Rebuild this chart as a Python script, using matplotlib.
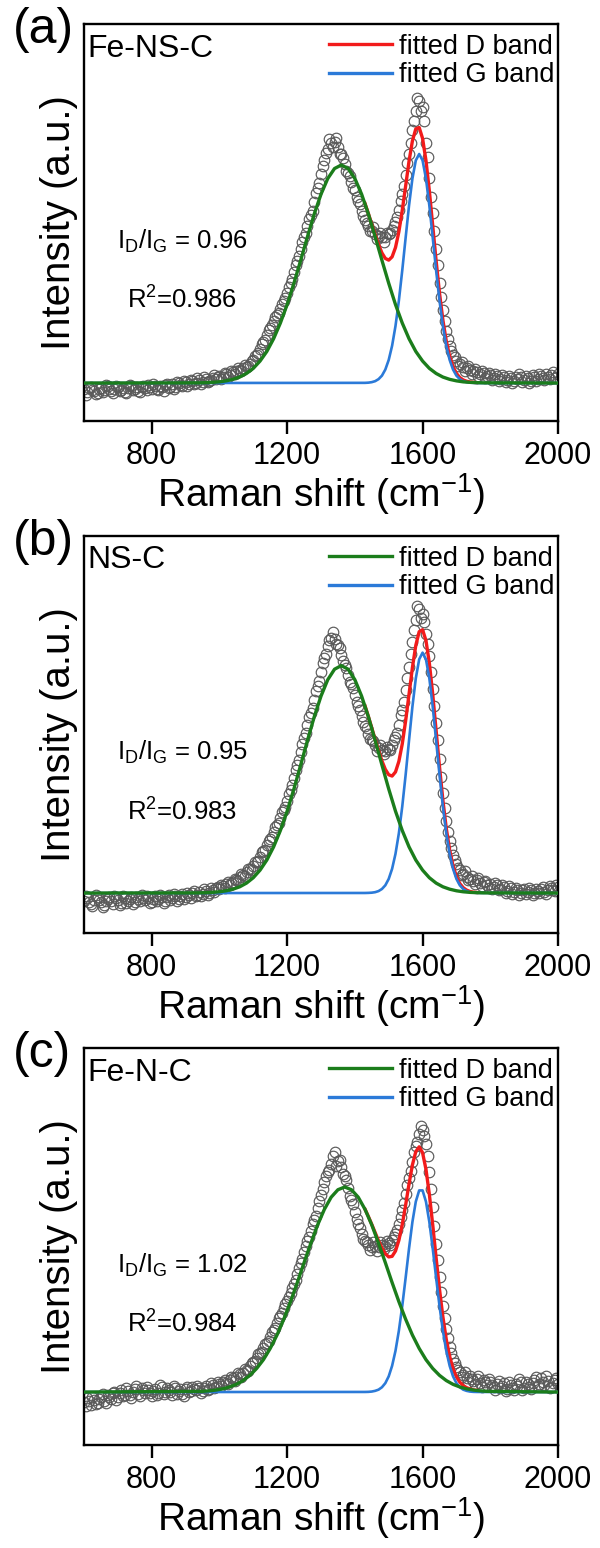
import matplotlib

matplotlib.use("Agg")
import matplotlib.pyplot as plt
from matplotlib.lines import Line2D

plt.rcParams["font.family"] = ["Liberation Sans", "DejaVu Sans"]
plt.rcParams["mathtext.fontset"] = "custom"
plt.rcParams["mathtext.rm"] = "Liberation Sans"
plt.rcParams["mathtext.it"] = "Liberation Sans:italic"

SHIFT = list(range(600, 2001, 10))
SHIFT_MID = list(range(605, 2000, 10))

INT_A = [
    -6, -9, -4, -8, -10, -5, -7, -3, -8, -6,
    -4, -7, -9, -5, -3, -6, -8, -4, -5, -2,
    -6, -3, -7, -4, -2, -5, -1, -4, 0, -3,
    1, -1, 2, 0, 3, 1, 4, 2, 5, 4,
    7, 6, 9, 8, 11, 12, 13, 15, 16, 19,
    23, 28, 34, 41, 48, 55, 62, 68, 74, 82,
    90, 100, 111, 122, 134, 146, 157, 168, 181, 195,
    209, 223, 234, 240, 241, 236, 229, 219, 210, 201,
    193, 182, 172, 163, 157, 152, 149, 147, 146, 146,
    149, 153, 161, 173, 189, 208, 229, 253, 272, 282,
    276, 240, 205, 170, 134, 100, 73, 52, 37, 28,
    22, 19, 16, 15, 13, 12, 11, 9, 10, 7,
    8, 5, 7, 4, 6, 3, 5, 2, 4, 6,
    3, 5, 2, 6, 4, 7, 3, 6, 8, 5,
    9,
]
INT_A_MID = [
    -12, -5, -7, -11, -6, -9, -2, -6, -10, -3,
    -8, -5, -10, -2, -7, -4, -9, -3, -7, -4,
    -1, -6, -3, -8, -1, -4, -6, 1, -2, 2,
    -3, 3, -1, 5, -1, 6, 1, 3, 8, 6,
    4, 10, 6, 12, 9, 15, 12, 18, 17, 22,
    27, 30, 39, 43, 53, 58, 66, 70, 79, 85,
    96, 104, 118, 127, 141, 150, 164, 172, 190, 200,
    217, 230, 244, 236, 245, 229, 225, 212, 207, 195,
    186, 179, 167, 160, 152, 156, 144, 150, 141, 150,
    150, 157, 166, 182, 197, 220, 240, 262, 285, 272,
    262, 226, 186, 152, 118, 86, 62, 44, 32, 26,
    17, 21, 12, 17, 9, 14, 7, 12, 5, 10,
    3, 9, 2, 8, 1, 7, 0, 6, 9, 1,
    7, 0, 8, 2, 9, 5, 9, 4, 11, 6,
]
INT_B = [
    -8, -5, -11, -7, -4, -9, -12, -6, -8, -3,
    -7, -10, -5, -8, -4, -9, -6, -2, -7, -5,
    -9, -3, -6, -4, -8, -2, -5, -3, -6, -1,
    -4, -2, 0, -3, 1, -1, 2, 0, 3, 5,
    4, 7, 9, 8, 11, 13, 16, 18, 21, 24,
    27, 31, 36, 42, 48, 54, 61, 68, 75, 83,
    92, 103, 115, 128, 141, 155, 168, 181, 194, 208,
    222, 236, 248, 256, 255, 249, 239, 229, 219, 210,
    199, 188, 177, 167, 159, 153, 148, 145, 143, 142,
    144, 148, 156, 168, 184, 204, 227, 252, 274, 285,
    280, 260, 238, 205, 170, 134, 100, 72, 52, 38,
    29, 23, 19, 16, 14, 12, 13, 10, 11, 8,
    9, 6, 8, 4, 6, 2, 5, 1, 3, 0,
    4, 1, 3, 0, 2, 4, 1, 3, 5, 2,
    6,
]
INT_B_MID = [
    -3, -9, -13, -2, -7, -14, -8, -4, -11, -5,
    -12, -3, -10, -6, -11, -4, -8, -5, -3, -10,
    -6, -8, -2, -10, -4, -7, -1, -8, -3, -6,
    0, -5, 2, -2, -3, 4, -2, 5, 1, 6,
    8, 5, 11, 10, 14, 12, 19, 17, 24, 23,
    31, 32, 41, 43, 52, 56, 66, 70, 81, 86,
    99, 108, 123, 133, 149, 160, 176, 186, 203, 213,
    231, 240, 254, 262, 250, 246, 233, 226, 212, 206,
    192, 184, 171, 165, 154, 152, 142, 148, 139, 146,
    143, 153, 160, 178, 192, 216, 240, 264, 288, 276,
    272, 250, 222, 188, 153, 116, 85, 61, 45, 33,
    25, 18, 22, 13, 17, 9, 15, 7, 12, 5,
    4, 10, 3, 8, 0, 7, -1, 5, -2, 3,
    -1, 5, -2, 4, 0, 6, -1, 7, 3, 8,
]
INT_C = [
    -10, -6, -13, -8, -11, -5, -9, -3, -7, 0,
    -5, 2, -3, 1, -6, 3, -2, 4, -1, 2,
    -4, 3, -1, 5, 0, 2, -3, 4, 1, -2,
    3, 0, 5, 2, 4, 1, 6, 3, 7, 5,
    8, 10, 9, 12, 14, 15, 18, 19, 22, 26,
    30, 34, 39, 44, 49, 55, 62, 69, 76, 84,
    91, 99, 108, 118, 129, 140, 151, 161, 172, 184,
    197, 210, 220, 228, 240, 231, 225, 216, 204, 192,
    180, 168, 158, 151, 147, 145, 146, 145, 147, 146,
    149, 152, 158, 168, 182, 198, 214, 230, 246, 258,
    262, 248, 220, 185, 148, 115, 86, 63, 45, 33,
    25, 20, 17, 14, 16, 11, 13, 9, 12, 7,
    10, 5, 8, 4, 9, 3, 7, 2, 6, 10,
    4, 8, 3, 12, 6, 14, 7, 11, 5, 12,
    8,
]
INT_C_MID = [
    -14, -9, -5, -12, -7, -2, -11, -5, -1, -8,
    -1, -4, 4, -3, 0, 6, -4, 2, 5, -1,
    1, -3, 7, -2, 4, 0, 6, -2, 3, -4,
    5, 1, 3, 6, -1, 4, 2, 9, 4, 10,
    6, 12, 8, 15, 11, 19, 15, 23, 21, 29,
    31, 38, 40, 48, 51, 60, 64, 74, 79, 88,
    95, 104, 112, 124, 133, 146, 155, 168, 176, 191,
    203, 216, 222, 236, 226, 232, 218, 212, 196, 188,
    173, 164, 153, 150, 142, 150, 141, 150, 143, 151,
    147, 155, 162, 175, 189, 207, 221, 240, 250, 266,
    256, 236, 203, 166, 132, 100, 74, 54, 39, 29,
    22, 15, 20, 10, 13, 8, 16, 5, 10, 13,
    7, 2, 11, 6, 1, 10, 4, 8, 13, 2,
    10, 5, 9, 15, 8, 10, 16, 4, 9, 14,
]

# ---- fitted D band ----
D_X_AB = [600] + list(range(940, 1781, 20)) + [2000]
D_X_C = [600] + list(range(950, 1791, 20)) + [2000]
D_FIT_A = [0,
    0.2, 0.4, 0.7, 1.2, 2.2, 3.7, 6.0, 9.6, 14.7, 22.0, 31.6, 44.3, 60.0, 78.5,
    99.8, 122.7, 146.3, 169.0, 188.8, 204.5, 214.5, 218.0, 214.5, 204.5, 188.8,
    169.0, 146.3, 122.7, 99.8, 78.5, 60.0, 44.3, 31.6, 22.0, 14.7, 9.6, 6.0,
    3.7, 2.2, 1.2, 0.7, 0.4, 0.2,
    0]
D_FIT_B = [0,
    0.2, 0.4, 0.7, 1.3, 2.3, 3.9, 6.3, 10.0, 15.4, 23.0, 33.1, 46.3, 62.7, 82.1,
    104.4, 128.4, 153.0, 176.7, 197.4, 213.9, 224.4, 228.0, 224.4, 213.9, 197.4,
    176.7, 153.0, 128.4, 104.4, 82.1, 62.7, 46.3, 33.1, 23.0, 15.4, 10.0, 6.3,
    3.9, 2.3, 1.3, 0.7, 0.4, 0.2,
    0]
D_FIT_C = [0,
    0.7, 1.2, 2.0, 3.2, 5.1, 7.7, 11.5, 16.7, 23.6, 32.4, 43.6, 57.0, 72.8, 90.4,
    109.5, 129.4, 148.8, 167.1, 182.7, 194.8, 202.3, 205.0, 202.3, 194.8, 182.7,
    167.1, 148.8, 129.4, 109.5, 90.4, 72.8, 57.0, 43.6, 32.4, 23.6, 16.7, 11.5,
    7.7, 5.1, 3.2, 2.0, 1.2, 0.7,
    0]

# ---- fitted G band ----
G_X = [600] + list(range(1430, 1761, 10)) + [2000]
G_FIT_A = [0,
    0.2, 0.4, 0.9, 1.9, 3.9, 7.4, 13.5, 23.1, 37.3, 57.0, 82.4, 112.7, 145.4,
    177.5, 204.5, 222.6, 229.0, 222.6, 204.5, 177.5, 145.4, 112.7, 82.4, 57.0,
    37.3, 23.1, 13.5, 7.4, 3.9, 1.9, 0.9, 0.4, 0.2, 0.0,
    0]
G_FIT_B = [0,
    0.1, 0.2, 0.4, 0.9, 2.0, 4.1, 7.8, 14.2, 24.3, 39.3, 60.0, 86.8, 118.6,
    153.0, 186.8, 215.2, 234.3, 241.0, 234.3, 215.2, 186.8, 153.0, 118.6, 86.8,
    60.0, 39.3, 24.3, 14.2, 7.8, 4.1, 2.0, 0.9, 0.4, 0.2,
    0]
G_FIT_C = [0,
    0.1, 0.2, 0.5, 1.2, 2.4, 4.8, 8.9, 15.7, 26.2, 41.2, 61.3, 86.1, 114.3,
    143.5, 170.1, 190.4, 201.6, 201.6, 190.4, 170.1, 143.5, 114.3, 86.1, 61.3,
    41.2, 26.2, 15.7, 8.9, 4.8, 2.4, 1.2, 0.5, 0.2, 0.1,
    0]

# ---- cumulative fit (red) ----
SUM_X = list(range(1430, 1761, 10))
SUM_FIT_A = [179.5, 169.4, 158.7, 148.2, 138.5, 130.1, 124.6, 122.9, 126.2, 135.5,
             151.3, 172.7, 197.1, 221.8, 242.1, 254.2, 255.5, 244.6, 222.6, 192.2,
             157.3, 122.3, 90.0, 63.0, 42.0, 26.8, 16.3, 9.6, 5.5, 3.1, 1.8, 1.1,
             0.7, 0.4]
SUM_FIT_B = [187.7, 176.9, 165.5, 153.9, 142.8, 132.5, 124.0, 118.6, 117.3, 121.4,
             132.0, 149.5, 172.7, 199.3, 226.1, 248.3, 262.0, 264.0, 253.2, 230.6,
             199.3, 163.0, 126.6, 93.1, 64.9, 43.2, 27.3, 16.5, 9.5, 5.4, 3.0, 1.6,
             0.9, 0.6]
SUM_FIT_C = [182.8, 175.5, 167.6, 159.4, 151.2, 144.0, 138.3, 135.1, 135.7, 141.0,
             151.7, 167.4, 187.1, 208.1, 227.1, 240.4, 245.2, 239.3, 222.8, 197.8,
             167.1, 134.2, 102.8, 75.2, 52.7, 35.7, 23.4, 15.2, 9.9, 6.5, 4.4, 3.1,
             2.2, 1.7]

PANEL_TAGS = ["(a)", "(b)", "(c)"]
SAMPLES = ["Fe-NS-C", "NS-C", "Fe-N-C"]
RATIOS = ["0.96", "0.95", "1.02"]
R_SQUARED = ["0.986", "0.983", "0.984"]
Y_LIMITS = [(-38, 359), (-40, 358), (-53, 344)]

RED = "#f21b1b"
GREEN = "#1b7d1b"
BLUE = "#2b7ad8"
LEGEND_D_COLOR = [RED, GREEN, GREEN]


def main():
    fig = plt.figure(figsize=(6.0, 15.48), dpi=100)
    bottoms = [0.7280, 0.3973, 0.0665]
    height = 0.2565

    panels = [
        (INT_A, INT_A_MID, D_X_AB, D_FIT_A, G_FIT_A, SUM_FIT_A),
        (INT_B, INT_B_MID, D_X_AB, D_FIT_B, G_FIT_B, SUM_FIT_B),
        (INT_C, INT_C_MID, D_X_C, D_FIT_C, G_FIT_C, SUM_FIT_C),
    ]
    for k, (meas, meas_mid, dx, dfit, gfit, sfit) in enumerate(panels):
        ax = fig.add_axes([0.14, bottoms[k], 0.79, height])
        for xs, ys in ((SHIFT, meas), (SHIFT_MID, meas_mid)):
            ax.plot(xs, ys, "o", mfc="none", mec="#5a5a5a", ms=7.6, mew=0.85,
                    zorder=1)
        ax.plot(SUM_X, sfit, color=RED, lw=2.4, zorder=2)
        ax.plot(G_X, gfit, color=BLUE, lw=1.9, zorder=3)
        ax.plot(dx, dfit, color=GREEN, lw=2.4, zorder=4)

        ax.set_xlim(600, 2000)
        ax.set_ylim(*Y_LIMITS[k])
        ax.set_xticks([800, 1200, 1600, 2000])
        ax.set_yticks([])
        ax.tick_params(axis="x", direction="out", length=9.5, width=1.7,
                       labelsize=22, pad=5)
        for s in ax.spines.values():
            s.set_linewidth(1.7)

        ax.set_xlabel("Raman shift (cm$^{-1}$)", fontsize=28, labelpad=0)
        ax.set_ylabel("Intensity (a.u.)", fontsize=29, labelpad=4)

        ax.text(0.007, 0.918, SAMPLES[k], transform=ax.transAxes,
                fontsize=23, ha="left", va="baseline")
        ax.text(0.069, 0.435, "I$_{\\mathrm{D}}$/I$_{\\mathrm{G}}$ = " + RATIOS[k],
                transform=ax.transAxes, fontsize=18.5, ha="left", va="baseline")
        ax.text(0.09, 0.283, "R$^{2}$=" + R_SQUARED[k],
                transform=ax.transAxes, fontsize=18.5, ha="left", va="baseline")
        ax.text(-0.150, 0.985, PANEL_TAGS[k], transform=ax.transAxes,
                fontsize=36, ha="left", va="center")

        handles = [Line2D([], [], color=LEGEND_D_COLOR[k], lw=2.4),
                   Line2D([], [], color=BLUE, lw=2.4)]
        ax.legend(handles, ["fitted D band", "fitted G band"], loc="upper right",
                  bbox_to_anchor=(0.992, 0.975), frameon=False, fontsize=19.5,
                  handlelength=2.3, handletextpad=0.26, labelspacing=0.08,
                  borderaxespad=0.0, borderpad=0.0)

    fig.savefig("out.png", dpi=100)


if __name__ == "__main__":
    main()
